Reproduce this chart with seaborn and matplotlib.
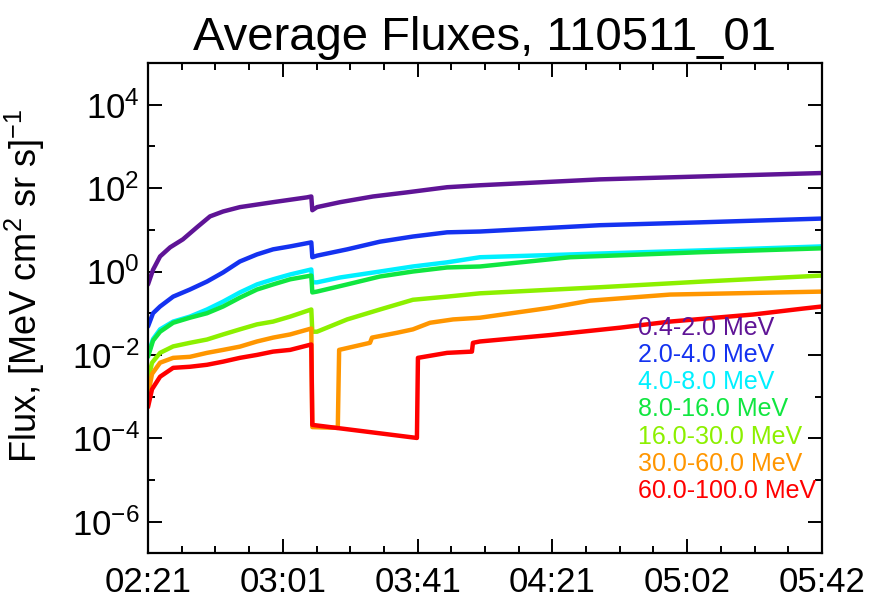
import numpy as np
import pandas as pd
import matplotlib
matplotlib.use("Agg")
import matplotlib.pyplot as plt
import matplotlib.ticker as mticker
import seaborn as sns

# Time axis: minutes after 02:21
tick_minutes = [0, 40.2, 80.4, 120.6, 160.8, 201.0]
tick_labels = ["02:21", "03:01", "03:41", "04:21", "05:02", "05:42"]

channels = ["0.4-2.0 MeV", "2.0-4.0 MeV", "4.0-8.0 MeV", "8.0-16.0 MeV",
            "16.0-30.0 MeV", "30.0-60.0 MeV", "60.0-100.0 MeV"]
colors = ["#5f1496", "#1432f0", "#00f0ff", "#10e640",
          "#8cf000", "#ff9600", "#ff0000"]

# 0.4-2.0 MeV
t_ch1 = [0, 1.5, 3.6, 6.6, 10.4, 14.6, 18.5, 22.4, 27.4, 37.3, 47.4, 48.7, 49.0,
         50.4, 57.3, 67.1, 77.2, 89.2, 99.0, 134.8, 164.6, 201.0]
f_ch1 = [0.49, 1.1, 2.3, 3.8, 5.9, 11.5, 21, 27.5, 35, 46, 60, 63, 29.5,
         35, 46, 63, 79, 105, 117, 162, 190, 230]

# 2.0-4.0 MeV
t_ch2 = [0, 1.5, 3.6, 7.5, 12.5, 17.6, 22.4, 27.4, 32.5, 37.3, 42.4, 48.7, 49.0,
         50.4, 59.4, 69.2, 79.0, 89.2, 99.0, 134.8, 164.6, 201.0]
f_ch2 = [0.048, 0.10, 0.145, 0.25, 0.37, 0.575, 0.95, 1.74, 2.57, 3.4, 4.0, 5.0, 2.2,
         2.4, 3.4, 5.2, 6.9, 8.7, 9.1, 12.9, 15.1, 18.6]

# 4.0-8.0 MeV
t_ch3 = [0, 1.5, 3.6, 7.5, 12.5, 17.6, 22.4, 27.4, 32.5, 37.3, 42.4, 48.7, 49.0,
         50.4, 57.3, 69.2, 79.0, 89.2, 99.0, 134.8, 164.6, 201.0]
f_ch3 = [0.010, 0.024, 0.041, 0.063, 0.083, 0.123, 0.19, 0.315, 0.49, 0.65, 0.85, 1.12, 0.55,
         0.55, 0.72, 1.0, 1.32, 1.66, 2.2, 2.7, 3.2, 4.0]

# 8.0-16.0 MeV
t_ch4 = [0, 1.5, 3.6, 7.5, 12.5, 17.6, 22.4, 27.4, 32.5, 37.3, 42.4, 48.7, 49.0,
         50.4, 59.4, 69.2, 79.0, 89.2, 99.0, 125.9, 164.6, 201.0]
f_ch4 = [0.009, 0.022, 0.036, 0.059, 0.078, 0.10, 0.145, 0.236, 0.37, 0.49, 0.65, 0.80, 0.315,
         0.33, 0.49, 0.76, 1.0, 1.25, 1.32, 2.2, 2.9, 3.6]

# 16.0-30.0 MeV
t_ch5 = [0, 1.2, 3.6, 7.5, 12.5, 17.6, 22.4, 27.4, 32.5, 37.3, 42.4, 48.7, 49.0,
         50.4, 59.4, 69.2, 79.0, 89.2, 99.0, 134.8, 165.5, 201.0]
f_ch5 = [0.0025, 0.0065, 0.0112, 0.016, 0.0195, 0.0234, 0.031, 0.041, 0.054, 0.063, 0.083, 0.123, 0.036,
         0.036, 0.071, 0.123, 0.21, 0.25, 0.30, 0.42, 0.575, 0.80]

# 30.0-60.0 MeV
t_ch6 = [0, 1.2, 3.6, 7.5, 12.5, 17.6, 22.4, 27.4, 32.5, 37.3, 42.4, 48.7, 49.0,
         56.6, 57.0, 66.2, 66.8, 74.3, 79.0, 84.1, 91.0, 99.0, 119.9, 131.8,
         155.7, 201.0]
f_ch6 = [0.0011, 0.0035, 0.0065, 0.0085, 0.009, 0.0112, 0.0132, 0.0158, 0.021, 0.026, 0.031, 0.043, 0.000186,
         0.000178, 0.0132, 0.0195, 0.026, 0.034, 0.041, 0.059, 0.071, 0.078, 0.135, 0.20,
         0.28, 0.33]

# 60.0-100.0 MeV
t_ch7 = [0, 1.2, 3.6, 7.5, 12.5, 17.6, 22.4, 27.4, 32.5, 37.3, 42.4, 48.7, 49.0,
         80.2, 80.5, 89.2, 96.6, 96.9, 99.0, 120.0, 140.8, 155.7, 180.4,
         195.3, 201.0]
f_ch7 = [0.00056, 0.0015, 0.003, 0.0049, 0.0052, 0.0058, 0.0069, 0.0085, 0.010, 0.012, 0.0132, 0.0178, 0.00021,
         0.000102, 0.0085, 0.0112, 0.012, 0.0195, 0.021, 0.030, 0.045, 0.063, 0.093,
         0.129, 0.145]

series_t = [t_ch1, t_ch2, t_ch3, t_ch4, t_ch5, t_ch6, t_ch7]
series_f = [f_ch1, f_ch2, f_ch3, f_ch4, f_ch5, f_ch6, f_ch7]

frames = []
for name, t, f in zip(channels, series_t, series_f):
    frames.append(pd.DataFrame({"minutes": t, "flux": f, "channel": name}))
df = pd.concat(frames, ignore_index=True)

sns.set_style("ticks")
plt.rcParams["font.family"] = ["Liberation Sans", "DejaVu Sans"]
plt.rcParams["mathtext.fontset"] = "custom"
plt.rcParams["mathtext.rm"] = "Liberation Sans"
plt.rcParams["mathtext.it"] = "Liberation Sans"
plt.rcParams["mathtext.bf"] = "Liberation Sans"
plt.rcParams["mathtext.default"] = "regular"
for key in ["text.color", "axes.labelcolor", "xtick.color", "ytick.color",
            "axes.edgecolor"]:
    plt.rcParams[key] = "black"

fig = plt.figure(figsize=(8.69, 6.06), dpi=100)
ax = fig.add_axes([148 / 869, 1 - 553 / 606, (822 - 148) / 869, (553 - 63) / 606])

sns.lineplot(data=df, x="minutes", y="flux", hue="channel", hue_order=channels,
             palette=dict(zip(channels, colors)), estimator=None, sort=False,
             units="channel", linewidth=3.2, legend=False, ax=ax)

ax.set_yscale("log")
ax.set_xlim(0, 201.0)
ax.set_ylim(10 ** -6.75, 1e5)

ax.yaxis.set_major_locator(mticker.FixedLocator([10.0 ** k for k in range(-6, 5, 2)]))
ax.yaxis.set_minor_locator(mticker.FixedLocator([10.0 ** k for k in range(-7, 6, 2)]))
ax.yaxis.set_major_formatter(mticker.LogFormatterSciNotation())
ax.yaxis.set_minor_formatter(mticker.NullFormatter())

ax.set_xticks(tick_minutes)
ax.set_xticklabels(tick_labels)
ax.xaxis.set_minor_locator(mticker.MultipleLocator(201.0 / 20))

for side in ax.spines.values():
    side.set_linewidth(1.6)
    side.set_color("black")

ax.tick_params(which="both", direction="in", top=True, right=True,
               width=1.4, colors="black")
ax.tick_params(which="major", length=10)
ax.tick_params(which="minor", length=5)
ax.tick_params(axis="x", which="major", labelsize=25, pad=9)
ax.tick_params(axis="y", which="major", labelsize=25, pad=6)

ax.set_xlabel("")
ax.set_ylabel(r"Flux, [MeV cm$^{2}$ sr s]$^{-1}$", fontsize=26)
ax.yaxis.set_label_coords(-0.150, 0.545)
ax.set_title("Average Fluxes, 110511_01", fontsize=34, pad=9, color="black")

# Channel labels, stacked in the lower right corner
label_y = [0.459, 0.404, 0.349, 0.294, 0.237, 0.182, 0.127]
for name, col, yy in zip(channels, colors, label_y):
    ax.text(0.727, yy, name, color=col, fontsize=18, transform=ax.transAxes,
            ha="left", va="center")

fig.savefig("out.png", dpi=100)
